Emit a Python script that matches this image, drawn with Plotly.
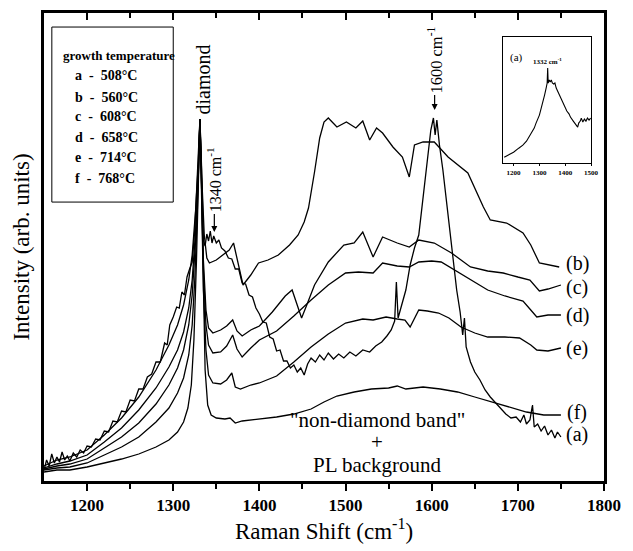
import plotly.graph_objects as go

# ---------------- data (Raman shift in cm^-1, intensity in arb. units) ----------------
a_x = [1150,1153,1156,1159,1162,1165,1168,1171,1174,1177,1180,1184,1188,1192,1196,1200,1205,1210,1215,1220,
       1225,1230,1235,1240,1245,1250,1255,1260,1265,1270,1275,1280,1285,1290,1293,1296,1300,1304,1307,1310,
       1313,1316,1319,1322,1325,1328,1331,1333,1335,1337,1339,1341,1343,1345,1347,1350,1353,1356,1360,1364,
       1368,1372,1376,1380,1384,1388,1392,1396,1400,1404,1408,1412,1416,1420,1424,1428,1432,1436,1440,1444,
       1448,1452,1456,1460,1465,1470,1475,1480,1486,1492,1498,1505,1512,1520,1528,1535,1542,1548,1553,1557,
       1559,1561,1565,1570,1575,1580,1585,1590,1595,1599,1602,1604,1606,1609,1613,1617,1621,1625,1629,1633,
       1636,1638,1640,1645,1650,1656,1662,1668,1674,1680,1686,1692,1698,1703,1707,1710,1714,1717,1719,1723,
       1727,1731,1735,1739,1743,1746,1750]
a_y = [11,21,15,27,18,24,19,29,21,25,20,28,24,31,28,35,34,42,41,50,
       49,60,59,70,69,81,80,92,92,104,107,119,119,138,136,156,164,174,173,189,
       186,204,212,219,251,311,362,311,241,235,247,240,250,238,245,238,241,233,230,223,
       222,212,212,198,197,186,184,173,167,159,158,144,142,130,131,120,120,113,116,109,
       113,106,117,123,119,126,121,128,122,127,123,129,125,131,129,135,139,145,151,160,
       199,163,176,191,216,233,246,286,321,351,363,346,361,336,311,281,246,219,191,169,
       146,163,134,119,109,101,91,84,78,73,67,63,64,59,66,57,61,76,54,57,
       50,55,46,51,43,49,44]

b_x = [1150,1165,1180,1200,1220,1240,1260,1280,1295,1305,1312,1318,1322,1326,1329,1331,1333,1336,1339,1342,
       1350,1358,1365,1370,1375,1381,1390,1399,1410,1422,1435,1445,1452,1457,1464,1470,1475,1480,1490,1501,
       1512,1520,1528,1536,1543,1555,1566,1574,1580,1590,1603,1619,1642,1660,1668,1687,1706,1715,1725,1735,
       1748]
b_y = [15,21,24,31,46,63,84,111,136,156,176,201,226,271,316,362,306,246,223,218,
       221,226,231,238,219,196,206,218,221,226,236,246,259,273,309,343,359,363,354,359,
       353,360,341,353,348,334,324,304,336,339,339,324,308,274,261,258,248,236,218,216,
       214]

c_x = [1150,1165,1180,1200,1220,1240,1260,1280,1295,1305,1312,1318,1322,1326,1329,1331,1333,1335,1338,1341,
       1346,1355,1362,1369,1374,1380,1390,1400,1415,1430,1438,1444,1449,1455,1464,1480,1498,1510,1520,1532,
       1543,1560,1574,1585,1603,1623,1645,1665,1683,1700,1714,1725,1735,1750]
c_y = [13,17,20,26,39,53,71,93,114,131,149,173,201,251,306,362,296,221,171,153,
       148,151,155,161,150,145,151,155,169,185,191,176,163,176,196,219,236,238,249,224,
       244,238,234,241,238,228,214,210,208,204,201,190,192,196]

d_x = [1150,1165,1180,1200,1220,1240,1260,1280,1295,1305,1312,1318,1322,1326,1329,1331,1333,1335,1338,1341,
       1346,1355,1362,1369,1374,1380,1390,1400,1420,1440,1460,1480,1500,1515,1532,1543,1560,1574,1585,1600,
       1611,1626,1645,1665,1685,1706,1715,1722,1735,1750]
d_y = [12,15,17,22,33,44,58,77,96,113,131,156,186,241,301,362,291,211,156,136,
       128,129,135,146,132,124,133,141,150,165,181,196,208,209,208,218,215,214,219,220,
       219,211,201,191,185,180,171,164,166,166]

e_x = [1150,1165,1180,1200,1220,1240,1260,1280,1295,1305,1312,1318,1322,1325,1328,1331,1333,1335,1338,1341,
       1346,1355,1362,1368,1372,1378,1390,1400,1420,1440,1460,1480,1500,1520,1532,1547,1560,1569,1575,1585,
       1595,1608,1620,1634,1650,1665,1685,1702,1715,1722,1735,1750]
e_y = [11,13,14,18,26,34,44,59,73,88,103,126,156,201,271,362,281,191,131,106,
       98,97,101,108,94,92,96,98,105,119,134,147,158,162,161,164,162,161,154,171,
       170,168,163,154,148,144,144,143,136,131,130,133]

f_x = [1150,1165,1180,1200,1220,1240,1260,1280,1295,1305,1312,1317,1321,1324,1327,1329,1331,1333,1335,1337,
       1340,1344,1350,1360,1366,1372,1380,1400,1420,1440,1460,1475,1490,1510,1530,1550,1560,1570,1590,1610,
       1630,1650,1670,1690,1710,1730,1750]
f_y = [9,11,11,14,18,22,27,34,41,49,59,73,96,141,221,291,362,291,191,111,
       76,66,63,62,63,58,60,62,64,67,72,79,85,89,92,93,95,92,94,92,
       89,84,79,74,69,66,66]

inset_x = [1164,1180,1200,1220,1236,1250,1265,1280,1287,1300,1308,1315,1320,1326,1330,1332,1334,1338,1342,1346,
           1350,1355,1360,1365,1372,1381,1390,1395,1406,1415,1420,1431,1436,1442,1448,1452,1458,1462,1468,1474,
           1480,1486,1492,1498]
inset_y = [6,8,11,15,18,22,28,35,40,48,56,62,68,75,80,95,80,83,81,83,
           80,79,80,75,71,66,61,58,52,49,46,42,40,38,36,40,42,45,41,44,
           42,45,43,45]

series_names = ["a", "b", "c", "d", "e", "f"]
series_x = [a_x, b_x, c_x, d_x, e_x, f_x]
series_y = [a_y, b_y, c_y, d_y, e_y, f_y]
series_label_y = [47, 218, 194, 166, 133, 69]
legend_lines = ["a  -  508°C", "b  -  560°C", "c  -  608°C", "d  -  658°C", "e  -  714°C", "f  -  768°C"]
x_ticks = [1200, 1300, 1400, 1500, 1600, 1700, 1800]
x_minor = [1250, 1350, 1450, 1550, 1650, 1750]
inset_ticks = [1200, 1300, 1400, 1500]

for xs, ys in zip(series_x, series_y):
    assert len(xs) == len(ys)
assert len(inset_x) == len(inset_y)

SERIF = "Liberation Serif"
fig = go.Figure()

for name, xs, ys in zip(series_names, series_x, series_y):
    fig.add_trace(go.Scatter(x=xs, y=ys, mode="lines", name=name,
                             line=dict(color="black", width=1.3)))

# helper empty trace for the top axis
fig.add_trace(go.Scatter(x=[], y=[], xaxis="x2", yaxis="y", showlegend=False))

fig.add_trace(go.Scatter(x=inset_x, y=inset_y, mode="lines", xaxis="x3", yaxis="y3",
                         line=dict(color="black", width=1.1)))

fig.update_layout(
    width=633, height=551,
    margin=dict(l=44, r=17, t=13, b=70),
    paper_bgcolor="white", plot_bgcolor="white",
    showlegend=False,
    font=dict(family=SERIF, color="black"),
    xaxis=dict(range=[1150, 1800], showline=True, linecolor="black", linewidth=2.5,
               showgrid=False, zeroline=False, ticks="outside", ticklen=7, tickwidth=2,
               tickcolor="black", tickvals=x_ticks,
               tickfont=dict(family=SERIF, size=17, weight="bold"),
               minor=dict(tickvals=x_minor, ticks="outside",
                          ticklen=5, tickwidth=1.5, tickcolor="black", showgrid=False),
               title=dict(text="Raman Shift (cm<sup>-1</sup>)", font=dict(family=SERIF, size=23),
                          standoff=7)),
    xaxis2=dict(range=[1150, 1800], overlaying="x", side="top", anchor="y",
                showline=True, linecolor="black", linewidth=2.5, showgrid=False, zeroline=False,
                ticks="inside", ticklen=7, tickwidth=2, tickcolor="black", tickvals=x_ticks,
                showticklabels=False,
                minor=dict(tickvals=x_minor, ticks="inside",
                           ticklen=5, tickwidth=1.5, tickcolor="black", showgrid=False)),
    yaxis=dict(range=[0, 468], showline=True, mirror=True, linecolor="black", linewidth=2.5,
               showgrid=False, zeroline=False, ticks="", showticklabels=False,
               title=dict(text="Intensity (arb. units)", font=dict(family=SERIF, size=23),
                          standoff=6)),
    xaxis3=dict(domain=[0.820, 0.977], anchor="y3", range=[1160, 1500], showline=True,
                mirror=True, linecolor="black", linewidth=1, showgrid=False, zeroline=False,
                ticks="outside", ticklen=2, tickwidth=1, tickcolor="black", tickvals=inset_ticks,
                tickfont=dict(family=SERIF, size=7, weight="bold")),
    yaxis3=dict(domain=[0.679, 0.949], anchor="x3", range=[0, 126], showline=True, mirror=True,
                linecolor="black", linewidth=1, showgrid=False, zeroline=False, ticks="",
                showticklabels=False),
)

# legend box
fig.add_shape(type="rect", xref="paper", yref="paper", x0=0.014, x1=0.2308, y0=0.596, y1=0.970,
              line=dict(color="black", width=1), fillcolor="white", layer="below")

ann = []
ann.append(dict(text="growth temperature", xref="paper", yref="paper", x=0.0297, y=0.910,
                xanchor="left", yanchor="middle", showarrow=False,
                font=dict(family=SERIF, size=13, weight="bold")))
legend_y = [0.8675, 0.8205, 0.7778, 0.735, 0.6923, 0.6474]
for t, yy in zip(legend_lines, legend_y):
    ann.append(dict(text=t, xref="paper", yref="paper", x=0.0524, y=yy, xanchor="left",
                    yanchor="middle", showarrow=False,
                    font=dict(family=SERIF, size=14, weight="bold")))

# curve labels on the right
for name, ly in zip(series_names, series_label_y):
    ann.append(dict(text="(" + name + ")", x=1769, y=ly, xref="x", yref="y", showarrow=False,
                    xanchor="center", yanchor="middle", font=dict(family=SERIF, size=20)))

ann.append(dict(text="diamond", x=1334, y=401, xref="x", yref="y", showarrow=False,
                textangle=-90, font=dict(family=SERIF, size=20)))
ann.append(dict(text="1340 cm<sup>-1</sup>", x=1347.7, y=249, xref="x", yref="y", showarrow=True,
                ax=0, ay=-52, textangle=-90, arrowhead=2, arrowsize=1, arrowwidth=1.2,
                arrowcolor="black", font=dict(family=SERIF, size=16)))
ann.append(dict(text="1600 cm<sup>-1</sup>", x=1603.4, y=371, xref="x", yref="y", showarrow=True,
                ax=0, ay=-50, textangle=-90, arrowhead=2, arrowsize=1, arrowwidth=1.2,
                arrowcolor="black", font=dict(family=SERIF, size=16.5)))
ann.append(dict(text='"non-diamond band"', x=1537, y=61, xref="x", yref="y", showarrow=False,
                font=dict(family=SERIF, size=21)))
ann.append(dict(text="+", x=1537, y=39, xref="x", yref="y", showarrow=False,
                font=dict(family=SERIF, size=21)))
ann.append(dict(text="PL background", x=1537, y=16, xref="x", yref="y", showarrow=False,
                font=dict(family=SERIF, size=21)))

# inset texts
ann.append(dict(text="(a)", x=1210, y=105, xref="x3", yref="y3", showarrow=False,
                font=dict(family=SERIF, size=11)))
ann.append(dict(text="1332 cm<sup>-1</sup>", x=1330, y=101, xref="x3", yref="y3", showarrow=False,
                font=dict(family=SERIF, size=7, weight="bold")))

fig.update_layout(annotations=ann)
fig.write_html("out.html")
